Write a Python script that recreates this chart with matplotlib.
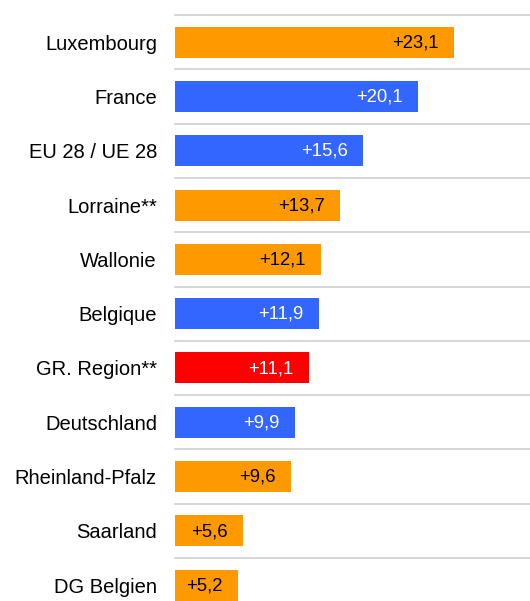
import matplotlib.pyplot as plt

plt.rcParams["font.family"] = ["Liberation Sans", "DejaVu Sans"]

REGIONS = ["Luxembourg", "France", "EU 28 / UE 28", "Lorraine**", "Wallonie",
           "Belgique", "GR. Region**", "Deutschland", "Rheinland-Pfalz",
           "Saarland", "DG Belgien"]
VALUES = [23.1, 20.1, 15.6, 13.7, 12.1, 11.9, 11.1, 9.9, 9.6, 5.6, 5.2]
KIND = ["gr", "other", "other", "gr", "gr", "other", "total", "other", "gr", "gr", "gr"]

COLORS = {"gr": "#FF9900", "other": "#3366FF", "total": "#FF0000"}
TEXT_COLORS = {"gr": "black", "other": "white", "total": "white"}

fig = plt.figure(figsize=(5.30, 6.01), dpi=100)
ax = fig.add_axes([175 / 530, 0, 355 / 530, 586 / 601])

ypos = list(range(len(REGIONS)))
ax.barh(ypos, VALUES, height=0.57, color=[COLORS[k] for k in KIND], zorder=2)

for y, v, k in zip(ypos, VALUES, KIND):
    ax.annotate(f"+{v:.1f}".replace(".", ","), (v, y), xytext=(-11, -0.5),
                textcoords="offset points", ha="right", va="center",
                fontsize=13.3, color=TEXT_COLORS[k], zorder=3)

for y in ypos:
    ax.axhline(y - 0.5, color="#d0d0d0", linewidth=1.2, zorder=1, clip_on=False)

ax.set_xlim(0, 355 / 12.08)
ax.set_ylim(-0.5 + 586 / 54.3, -0.5)
ax.set_yticks(ypos)
ax.set_yticklabels(REGIONS, fontsize=14.5)
ax.tick_params(axis="y", length=0, pad=13)
ax.set_xticks([])
for s in ax.spines.values():
    s.set_visible(False)

fig.savefig("out.png", dpi=100)
